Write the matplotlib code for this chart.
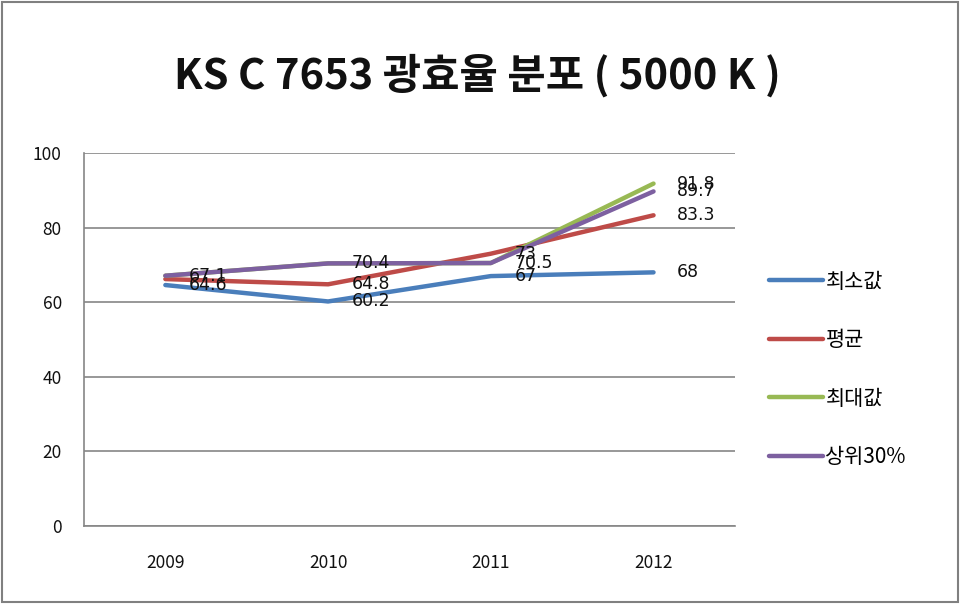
import matplotlib
matplotlib.use("Agg")
import matplotlib.pyplot as plt
from matplotlib.patches import Rectangle

plt.rcParams['font.family'] = ['Noto Sans CJK KR', 'DejaVu Sans']

years = ["2009", "2010", "2011", "2012"]
series_names = ["최소값", "평균", "최대값", "상위30%"]
min_vals = [64.6, 60.2, 67.0, 68.0]
avg_vals = [66.2, 64.8, 73.0, 83.3]
max_vals = [67.1, 70.4, 70.5, 91.8]
top30_vals = [67.1, 70.4, 70.5, 89.7]
# which value labels are visible in the chart
min_labels = ["64.6", "60.2", "67", "68"]
avg_labels = [None, "64.8", "73", "83.3"]
max_labels = [None, None, None, "91.8"]
top30_labels = ["67.1", "70.4", "70.5", "89.7"]

colors = ["#4A7EBB", "#BE4B48", "#98B954", "#7D60A0"]

fig = plt.figure(figsize=(9.6, 6.04), dpi=100)
fig.patches.append(Rectangle((0.002, 0.003), 0.996, 0.994, transform=fig.transFigure,
                             fill=False, edgecolor="#808080", linewidth=1.5))
ax = fig.add_axes([0.0875, 0.1291, 0.678, 0.6176])

x = range(len(years))
all_vals = [min_vals, avg_vals, max_vals, top30_vals]
all_labels = [min_labels, avg_labels, max_labels, top30_labels]
for vals, name, col in zip(all_vals, series_names, colors):
    ax.plot(x, vals, color=col, linewidth=3.2, label=name, solid_capstyle="round")

for vals, labs in zip(all_vals, all_labels):
    for i, (v, t) in enumerate(zip(vals, labs)):
        if t is None:
            continue
        ax.annotate(t, (i, v), xytext=(17, 0), textcoords="offset points",
                    ha="left", va="center", fontsize=12.5, color="#111111",
                    family=["DejaVu Sans"])

ax.set_xlim(-0.5, 3.5)
ax.set_ylim(0, 100)
ax.set_yticks(range(0, 101, 20))
ax.set_xticks(list(x))
ax.set_xticklabels(years)
ax.grid(axis="y", color="#868686", linewidth=1.2)
ax.set_axisbelow(True)
for s in ["top", "right"]:
    ax.spines[s].set_visible(False)
for s in ["left", "bottom"]:
    ax.spines[s].set_color("#868686")
    ax.spines[s].set_linewidth(1.2)
ax.tick_params(length=0, labelsize=12.5, colors="#111111")
ax.tick_params(axis="y", pad=16)
ax.tick_params(axis="x", pad=20)

ax.legend(loc="center left", bbox_to_anchor=(1.04, 0.42), frameon=False,
          fontsize=15, labelspacing=1.75, handlelength=2.6, handletextpad=0.1,
          borderaxespad=0.0)

fig.text(0.497, 0.875, "KS C 7653 광효율 분포 ( 5000 K )", ha="center", va="center",
         fontsize=30, fontweight="bold", color="#111111")

fig.savefig("out.png", dpi=100)
